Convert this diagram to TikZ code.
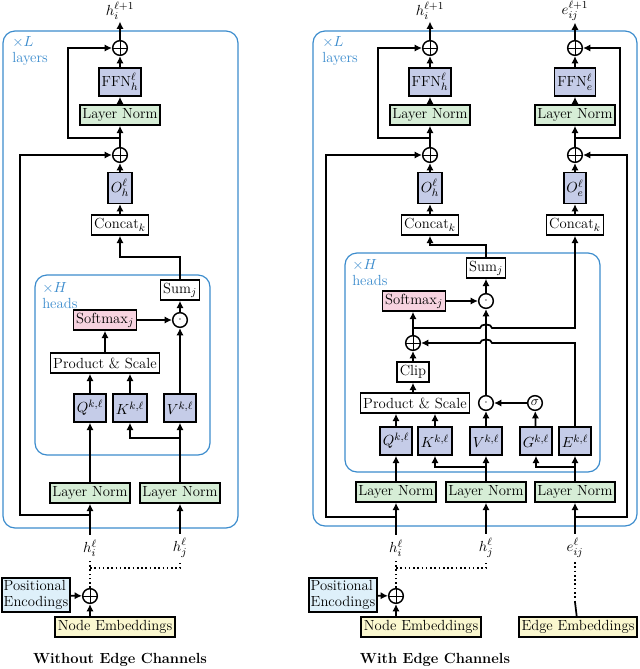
\documentclass[tikz,border=0pt]{standalone}
\usepackage{amsmath,amssymb}
\usepackage{tikz}
\usetikzlibrary{positioning}
\usetikzlibrary{shapes.geometric, arrows.meta}
\definecolor{linblue}{RGB}{197,204,232}
\definecolor{normgreen}{RGB}{214,237,214}
\definecolor{softpink}{RGB}{247,211,224}
\definecolor{posblue}{RGB}{222,240,250}
\definecolor{embyellow}{RGB}{250,247,207}
\definecolor{frameblue}{RGB}{60,140,205}
\tikzstyle{box} = [rectangle, draw=black, line width=1.2pt, inner sep=2pt, minimum height=15pt, fill=white]
\tikzstyle{norm} = [box, fill=normgreen]
\tikzstyle{lin} = [box, fill=linblue, minimum height=21pt]
\tikzstyle{soft} = [box, fill=softpink]
\tikzstyle{add} = [circle, draw=black, line width=1.1pt, minimum size=11pt, inner sep=0pt, fill=white, path picture={\draw[line width=0.7pt] (path picture bounding box.north) -- (path picture bounding box.south) (path picture bounding box.west) -- (path picture bounding box.east);}]
\tikzstyle{mul} = [circle, draw=black, line width=1.1pt, minimum size=11pt, inner sep=0pt, fill=white, font=\small]
\tikzstyle{wire} = [line width=1.3pt, -{Latex[length=5.5pt,width=5.5pt]}]
\tikzstyle{link} = [line width=1.3pt]
\tikzstyle{dots} = [line width=1.2pt, dotted]
\tikzstyle{frame} = [draw=frameblue, line width=0.9pt, rounded corners=9pt]
\tikzstyle{tag} = [text=frameblue, align=left, anchor=north west, inner sep=0pt]
\tikzstyle{top} = [inner sep=1pt]
\begin{document}
\begin{tikzpicture}[x=0.75pt, y=-0.75pt, font=\fontsize{11}{12.5}\selectfont]
    \useasboundingbox (0,0) rectangle (640,669);
    % frames
    \draw[frame] (3,31) rectangle (238,528);
    \draw[frame] (35,275) rectangle (210,455);
    \draw[frame] (313,31) rectangle (637,526);
    \draw[frame] (345,253) rectangle (600,472);
    \node[tag] (l_layers) at (12,36) {$\times L$\\layers};
    \node[tag] (l_heads) at (42,282) {$\times H$\\heads};
    \node[tag] (r_layers) at (322,36) {$\times L$\\layers};
    \node[tag] (r_heads) at (352,259) {$\times H$\\heads};

    % ---- without edge channels ----
    \node[top] (l_out) at (120,11) {$h_i^{\ell+1}$};
    \node[add] (l_add1) at (120,48) {};
    \node[lin] (l_ffn) at (120,82) {FFN$^\ell_h$};
    \node[norm] (l_ln1) at (120,115) {Layer Norm};
    \node[add] (l_add2) at (120,155) {};
    \node[lin, minimum height=23pt] (l_o) at (120,188) {$O^\ell_h$};
    \node[box] (l_concat) at (120,225) {Concat$_k$};
    \node[box] (l_sum) at (180,290) {Sum$_j$};
    \node[mul] (l_mul) at (180,320) {$\cdot$};
    \node[soft] (l_soft) at (105,320) {Softmax$_j$};
    \node[box] (l_ps) at (105,363) {Product \& Scale};
    \node[lin] (l_q) at (90,408) {$Q^{k,\ell}$};
    \node[lin] (l_k) at (130,408) {$K^{k,\ell}$};
    \node[lin] (l_v) at (180,408) {$V^{k,\ell}$};
    \node[norm] (l_ln2) at (90,493) {Layer Norm};
    \node[norm] (l_ln3) at (180,493) {Layer Norm};
    \node (l_hi) at (90,548) {$h_i^\ell$};
    \node (l_hj) at (180,548) {$h_j^\ell$};
    \node[add] (l_add3) at (90,596) {};
    \node[box, fill=posblue, align=left, inner sep=1.5pt] (l_pos) at (36,595) {Positional\\Encodings};
    \node[box, fill=embyellow] (l_node) at (115,627) {Node Embeddings};
    \node[font=\fontsize{11}{12.5}\selectfont\bfseries] (l_title) at (120,660) {Without Edge Channels};

    \draw[wire] (l_add1) -- (l_out);
    \draw[wire] (l_ffn) -- (l_add1);
    \draw[wire] (l_ln1) -- (l_ffn);
    \draw[wire] (l_add2) -- (l_ln1);
    \draw[wire] (l_o) -- (l_add2);
    \draw[wire] (l_concat) -- (l_o);
    \draw[wire] (120,138) -- (68,138) |- (l_add1);
    \draw[wire] (90,515) -- (20,515) |- (l_add2);
    \draw[wire] (l_sum) -- (180,257) -| (l_concat);
    \draw[wire] (l_mul) -- (l_sum);
    \draw[wire] (l_soft) -- (l_mul);
    \draw[wire] (l_v) -- (l_mul);
    \draw[wire] (l_ps) -- (l_soft);
    \draw[wire] (l_q) -- (l_q|-l_ps.south);
    \draw[wire] (l_k) -- (l_k|-l_ps.south);
    \draw[wire] (l_ln2) -- (l_q);
    \draw[wire] (l_ln3) -- (l_v);
    \draw[wire] (180,438) -| (l_k);
    \draw[wire] (l_hi) -- (l_ln2);
    \draw[wire] (l_hj) -- (l_ln3);
    \draw[dots] (l_add3) -- (l_hi);
    \draw[dots] (90,568) -| (l_hj);
    \draw[wire] (l_pos) -- (l_add3);
    \draw[wire] (l_add3|-l_node.north) -- (l_add3);

    % ---- with edge channels ----
    \node[top] (r_out) at (430,11) {$h_i^{\ell+1}$};
    \node[add] (r_add1) at (430,48) {};
    \node[lin] (r_ffn) at (430,82) {FFN$^\ell_h$};
    \node[norm] (r_ln1) at (430,115) {Layer Norm};
    \node[add] (r_add2) at (430,155) {};
    \node[lin, minimum height=23pt] (r_o) at (430,188) {$O^\ell_h$};
    \node[box] (r_concat) at (430,225) {Concat$_k$};
    \node[top] (e_out) at (575,11) {$e_{ij}^{\ell+1}$};
    \node[add] (e_add1) at (575,48) {};
    \node[lin] (e_ffn) at (575,82) {FFN$^\ell_e$};
    \node[norm] (e_ln1) at (575,115) {Layer Norm};
    \node[add] (e_add2) at (575,155) {};
    \node[lin, minimum height=23pt] (e_o) at (575,188) {$O^\ell_e$};
    \node[box] (e_concat) at (575,225) {Concat$_k$};
    \node[box] (r_sum) at (486,268) {Sum$_j$};
    \node[mul] (r_mul) at (486,301) {$\cdot$};
    \node[soft] (r_soft) at (414,301) {Softmax$_j$};
    \node[add] (r_add4) at (413,343) {};
    \node[box] (r_clip) at (413,372) {Clip};
    \node[box] (r_ps) at (415,403) {Product \& Scale};
    \node[mul] (r_gate) at (486,403) {$\cdot$};
    \node[mul, font=\normalsize] (r_sig) at (535,403) {$\sigma$};
    \node[lin] (r_q) at (396,441) {$Q^{k,\ell}$};
    \node[lin] (r_k) at (435,441) {$K^{k,\ell}$};
    \node[lin] (r_v) at (486,441) {$V^{k,\ell}$};
    \node[lin] (r_g) at (536,441) {$G^{k,\ell}$};
    \node[lin] (r_e) at (575,441) {$E^{k,\ell}$};
    \node[norm] (r_ln2) at (396,492) {Layer Norm};
    \node[norm] (r_ln3) at (486,492) {Layer Norm};
    \node[norm] (r_ln4) at (575,492) {Layer Norm};
    \node (r_hi) at (396,548) {$h_i^\ell$};
    \node (r_hj) at (486,548) {$h_j^\ell$};
    \node (r_eij) at (575,548) {$e_{ij}^\ell$};
    \node[add] (r_add3) at (396,596) {};
    \node[box, fill=posblue, align=left, inner sep=1.5pt] (r_pos) at (343,595) {Positional\\Encodings};
    \node[box, fill=embyellow] (r_node) at (421,627) {Node Embeddings};
    \node[box, fill=embyellow] (r_edge) at (578,627) {Edge Embeddings};
    \coordinate (r_edgetop) at (575,602);
    \node[font=\fontsize{11}{12.5}\selectfont\bfseries] (r_title) at (435,660) {With Edge Channels};

    \draw[wire] (r_add1) -- (r_out);
    \draw[wire] (r_ffn) -- (r_add1);
    \draw[wire] (r_ln1) -- (r_ffn);
    \draw[wire] (r_add2) -- (r_ln1);
    \draw[wire] (r_o) -- (r_add2);
    \draw[wire] (r_concat) -- (r_o);
    \draw[wire] (430,138) -- (378,138) |- (r_add1);
    \draw[wire] (396,517) -- (326,517) |- (r_add2);
    \draw[wire] (e_add1) -- (e_out);
    \draw[wire] (e_ffn) -- (e_add1);
    \draw[wire] (e_ln1) -- (e_ffn);
    \draw[wire] (e_add2) -- (e_ln1);
    \draw[wire] (e_o) -- (e_add2);
    \draw[wire] (e_concat) -- (e_o);
    \draw[wire] (575,138) -- (620,138) |- (e_add1);
    \draw[wire] (575,517) -- (627,517) |- (e_add2);
    \draw[wire] (r_sum) -- (486,245) -| (r_concat);
    \draw[wire] (r_mul) -- (r_sum);
    \draw[wire] (r_soft) -- (r_mul);
    \draw[wire] (r_gate) -- (r_mul);
    \draw[wire] (r_add4) -- (r_add4|-r_soft.south);
    \draw[wire] (413,328) -- (480,328) to[out=90,in=90] (492,328) -- (575,328) -- (e_concat);
    \draw[wire] (r_e) -- (575,343) -- (492,343) to[out=90,in=90] (480,343) -- (r_add4);
    \draw[wire] (r_clip) -- (r_add4);
    \draw[wire] (r_ps.north-|r_clip) -- (r_clip);
    \draw[wire] (r_q) -- (r_q|-r_ps.south);
    \draw[wire] (r_k) -- (r_k|-r_ps.south);
    \draw[wire] (r_v) -- (r_gate);
    \draw[wire] (r_sig) -- (r_gate);
    \draw[wire] (r_g) -- (r_sig);
    \draw[wire] (r_ln2) -- (r_q);
    \draw[wire] (r_ln3) -- (r_v);
    \draw[wire] (486,467) -| (r_k);
    \draw[wire] (r_ln4) -- (r_e);
    \draw[wire] (575,467) -| (r_g);
    \draw[wire] (r_hi) -- (r_ln2);
    \draw[wire] (r_hj) -- (r_ln3);
    \draw[wire] (r_eij) -- (r_ln4);
    \draw[dots] (r_add3) -- (r_hi);
    \draw[dots] (396,568) -| (r_hj);
    \draw[dots] (r_eij) -- (r_edgetop);
    \draw[link] (r_edgetop) -- (r_edge);
    \draw[wire] (r_pos) -- (r_add3);
    \draw[wire] (r_add3|-r_node.north) -- (r_add3);
\end{tikzpicture}
\end{document}
